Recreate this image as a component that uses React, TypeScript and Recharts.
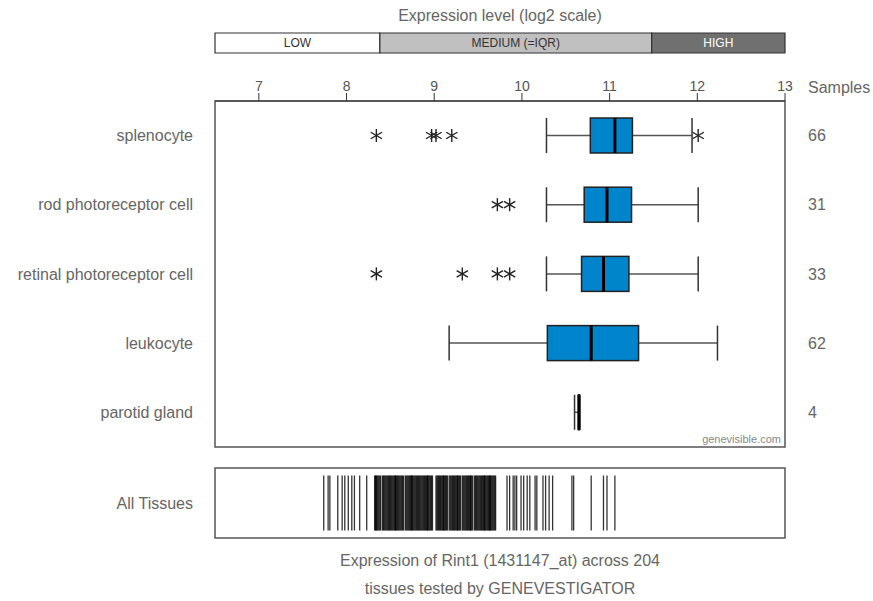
import React from "react";
import { ComposedChart, ScatterChart, Bar, Scatter, XAxis, YAxis, ReferenceArea } from "recharts";

// expression level domain (log2)
const xDomain: [number, number] = [6.5, 13];
const xTicks = [7, 8, 9, 10, 11, 12, 13];

const levelNames = ["LOW", "MEDIUM (=IQR)", "HIGH"];
const levelFrom = [6.5, 8.38, 11.48];
const levelTo = [8.38, 11.48, 13];
const levelFill = ["#ffffff", "#c0c0c0", "#707070"];
const levelText = ["#333", "#333", "#fff"];

const tissues = ["splenocyte", "rod photoreceptor cell", "retinal photoreceptor cell", "leukocyte", "parotid gland"];
const samples = [66, 31, 33, 62, 4];
const whiskerLow = [10.28, 10.28, 10.28, 9.17, 10.6];
const q1 = [10.78, 10.71, 10.68, 10.29, 10.645];
const median = [11.06, 10.97, 10.93, 10.79, 10.65];
const q3 = [11.26, 11.25, 11.22, 11.33, 10.655];
const whiskerHigh = [11.94, 12.01, 12.01, 12.23, 10.66];
const outliers = [[8.34, 8.97, 9.02, 9.2, 12.01], [9.72, 9.86], [8.34, 9.32, 9.72, 9.86], [], []];

// all 204 tissues, one stripe each
const allTissues = [
  7.74, 7.79, 7.81, 7.9, 7.95, 7.98, 8.02, 8.06, 8.09, 8.15, 8.23,
  8.32, 8.33, 8.335, 8.34, 8.35, 8.36, 8.37, 8.38, 8.39, 8.41, 8.42, 8.43, 8.44, 8.45, 8.46, 8.47, 8.48, 8.49,
  8.5, 8.51, 8.52, 8.53, 8.54, 8.55, 8.555, 8.56, 8.57, 8.58, 8.59, 8.6, 8.61, 8.62, 8.63, 8.64, 8.65,
  8.67, 8.68, 8.69, 8.7, 8.71, 8.72, 8.73, 8.74, 8.745, 8.75, 8.76, 8.77, 8.78, 8.79, 8.8, 8.81, 8.82, 8.83,
  8.84, 8.85, 8.86, 8.87, 8.88, 8.89, 8.9, 8.91, 8.92, 8.925, 8.93, 8.94, 8.95, 8.96, 8.97, 8.98,
  9.02, 9.03, 9.04, 9.05, 9.06, 9.07, 9.08, 9.09, 9.1, 9.105, 9.11, 9.12, 9.13, 9.14, 9.15,
  9.17, 9.18, 9.19, 9.2, 9.21, 9.22, 9.23, 9.24, 9.25, 9.26, 9.265, 9.27, 9.28, 9.29, 9.3,
  9.32, 9.33, 9.34, 9.35, 9.36, 9.37, 9.38, 9.39, 9.4, 9.41, 9.415, 9.42, 9.43, 9.44,
  9.46, 9.47, 9.48, 9.49, 9.5, 9.51, 9.52, 9.53, 9.54, 9.55, 9.56, 9.57, 9.575, 9.58, 9.59, 9.6,
  9.61, 9.62, 9.63, 9.635, 9.64, 9.65, 9.66, 9.67, 9.68, 9.69, 9.7,
  9.83, 9.86, 9.9, 9.92, 9.94, 9.99, 10.02, 10.06, 10.09, 10.15, 10.17, 10.24, 10.27, 10.31, 10.35,
  10.57, 10.59, 10.79, 10.93, 10.97, 11.06,
];

const font = "'Liberation Sans', Arial, sans-serif";
const W = 873;

const boxRows = tissues.map((name, i) => ({
  name,
  samples: String(samples[i]),
  lo: whiskerLow[i],
  q1: q1[i],
  med: median[i],
  q3: q3[i],
  hi: whiskerHigh[i],
  out: outliers[i],
}));

const legendRows = [{ row: "level", span: xDomain }];
const stripRows = allTissues.map((v) => ({ v, row: "All Tissues" }));

function Asterisk({ cx, cy }: { cx: number; cy: number }) {
  const r = 6.5;
  const dx = r * Math.cos(Math.PI / 6);
  const dy = r * Math.sin(Math.PI / 6);
  return (
    <g stroke="#222" strokeWidth={1.4}>
      <line x1={cx} y1={cy - r} x2={cx} y2={cy + r} />
      <line x1={cx - dx} y1={cy - dy} x2={cx + dx} y2={cy + dy} />
      <line x1={cx - dx} y1={cy + dy} x2={cx + dx} y2={cy - dy} />
    </g>
  );
}

function BoxShape(props: any) {
  const { x, y, width, height, payload } = props;
  const k = width / (payload.hi - payload.lo);
  const px = (v: number) => x + (v - payload.lo) * k;
  const cy = y + height / 2;
  return (
    <g>
      <line x1={px(payload.lo)} x2={px(payload.q1)} y1={cy} y2={cy} stroke="#555" strokeWidth={1.5} />
      <line x1={px(payload.q3)} x2={px(payload.hi)} y1={cy} y2={cy} stroke="#555" strokeWidth={1.5} />
      <line x1={px(payload.lo)} x2={px(payload.lo)} y1={y} y2={y + height} stroke="#333" strokeWidth={1.5} />
      <line x1={px(payload.hi)} x2={px(payload.hi)} y1={y} y2={y + height} stroke="#333" strokeWidth={1.5} />
      <rect x={px(payload.q1)} y={y} width={px(payload.q3) - px(payload.q1)} height={height} fill="#0085cc" stroke="#222" strokeWidth={1.5} />
      <line x1={px(payload.med)} x2={px(payload.med)} y1={y} y2={y + height} stroke="#000" strokeWidth={3} />
      {payload.out.map((v: number, i: number) => (
        <Asterisk key={i} cx={px(v)} cy={cy} />
      ))}
    </g>
  );
}

function Stripe(props: any) {
  const { cx, cy } = props;
  return <line x1={cx} x2={cx} y1={cy - 27.5} y2={cy + 27.5} stroke="#000" strokeOpacity={0.8} strokeWidth={1.3} />;
}

const textStyle: React.CSSProperties = { position: "absolute", color: "#666", fontSize: 16, whiteSpace: "nowrap" };

export default function App() {
  return (
    <div style={{ position: "absolute", left: 0, top: 0, width: W, height: 601, background: "#fff", fontFamily: font }}>
      <div style={{ ...textStyle, left: 215, width: 570, top: 7, textAlign: "center" }}>Expression level (log2 scale)</div>

      <div style={{ position: "absolute", left: 0, top: 0 }}>
        <ComposedChart width={W} height={60} data={legendRows} layout="vertical" margin={{ top: 33, right: 88, bottom: 7, left: 215 }}>
          <XAxis type="number" domain={xDomain} hide />
          <YAxis type="category" dataKey="row" hide />
          <Bar dataKey="span" fill="none" barSize={20} isAnimationActive={false} />
          {levelNames.map((n, i) => (
            <ReferenceArea
              key={n}
              x1={levelFrom[i]}
              x2={levelTo[i]}
              fill={levelFill[i]}
              fillOpacity={1}
              stroke="#333"
              strokeWidth={1.2}
              label={{ value: n, position: "center", fill: levelText[i], fontSize: 12, fontFamily: font }}
            />
          ))}
        </ComposedChart>
      </div>

      <div style={{ position: "absolute", left: 0, top: 0 }}>
        <ComposedChart width={W} height={460} data={boxRows} layout="vertical" margin={{ top: 71, right: 0, bottom: 13, left: 0 }}>
          <XAxis
            type="number"
            orientation="top"
            domain={xDomain}
            ticks={xTicks}
            height={30}
            tickSize={8}
            stroke="#333"
            tick={{ fill: "#555", fontSize: 14, fontFamily: font }}
          />
          <YAxis
            type="category"
            dataKey="name"
            width={215}
            axisLine={false}
            tickLine={false}
            tickMargin={16}
            tick={{ fill: "#666", fontSize: 16, fontFamily: font }}
          />
          <YAxis
            yAxisId="right"
            orientation="right"
            type="category"
            dataKey="samples"
            width={88}
            axisLine={false}
            tickLine={false}
            tickMargin={17}
            tick={{ fill: "#666", fontSize: 16, fontFamily: font, textAnchor: "start" }}
          />
          <ReferenceArea
            x1={xDomain[0]}
            x2={xDomain[1]}
            fill="none"
            fillOpacity={0}
            stroke="#555"
            strokeWidth={1.5}
            label={{ value: "genevisible.com", position: "insideBottomRight", offset: 4, fill: "#888", fontSize: 11, fontFamily: font }}
          />
          <Bar dataKey={(d: any) => [d.lo, d.hi]} barSize={35} shape={BoxShape} isAnimationActive={false} />
        </ComposedChart>
      </div>

      <div style={{ ...textStyle, left: 808, top: 79 }}>Samples</div>

      <div style={{ position: "absolute", left: 0, top: 0 }}>
        <ScatterChart width={W} height={560} margin={{ top: 468, right: 88, bottom: 22, left: 0 }}>
          <XAxis type="number" dataKey="v" domain={xDomain} hide />
          <YAxis
            type="category"
            dataKey="row"
            allowDuplicatedCategory={false}
            width={215}
            axisLine={false}
            tickLine={false}
            tickMargin={16}
            tick={{ fill: "#666", fontSize: 16, fontFamily: font }}
          />
          <ReferenceArea x1={xDomain[0]} x2={xDomain[1]} fill="none" fillOpacity={0} stroke="#555" strokeWidth={1.5} />
          <Scatter data={stripRows} shape={Stripe} isAnimationActive={false} />
        </ScatterChart>
      </div>

      <div style={{ ...textStyle, left: 215, width: 570, top: 547, textAlign: "center", lineHeight: "28px" }}>
        Expression of Rint1 (1431147_at) across 204
        <br />
        tissues tested by GENEVESTIGATOR
      </div>
    </div>
  );
}
